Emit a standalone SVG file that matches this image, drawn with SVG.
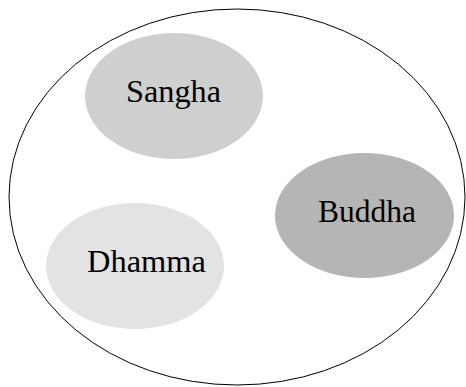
<svg xmlns="http://www.w3.org/2000/svg" width="466" height="387" viewBox="0 0 466 387">
<style>
.lbl{font-family:"Liberation Serif","DejaVu Serif",serif;font-size:31.5px;fill:#000;text-anchor:middle}
</style>
<rect width="466" height="387" fill="#fff"/>
<g id="outer"><ellipse cx="237" cy="197" rx="228" ry="188" fill="none" stroke="#000" stroke-width="1"/></g>
<g id="sangha"><ellipse cx="174" cy="96" rx="89" ry="63" fill="#cfcfcf"/><text class="lbl" x="173.5" y="102" textLength="95" lengthAdjust="spacingAndGlyphs">Sangha</text></g>
<g id="buddha"><ellipse cx="364.5" cy="215.5" rx="89.5" ry="62.5" fill="#b5b5b5"/><text class="lbl" x="367" y="222" textLength="98" lengthAdjust="spacingAndGlyphs">Buddha</text></g>
<g id="dhamma"><ellipse cx="135" cy="266" rx="89" ry="63" fill="#e3e3e3"/><text class="lbl" x="146.5" y="272" textLength="119" lengthAdjust="spacingAndGlyphs">Dhamma</text></g>
<g id="connectors"></g>
</svg>
